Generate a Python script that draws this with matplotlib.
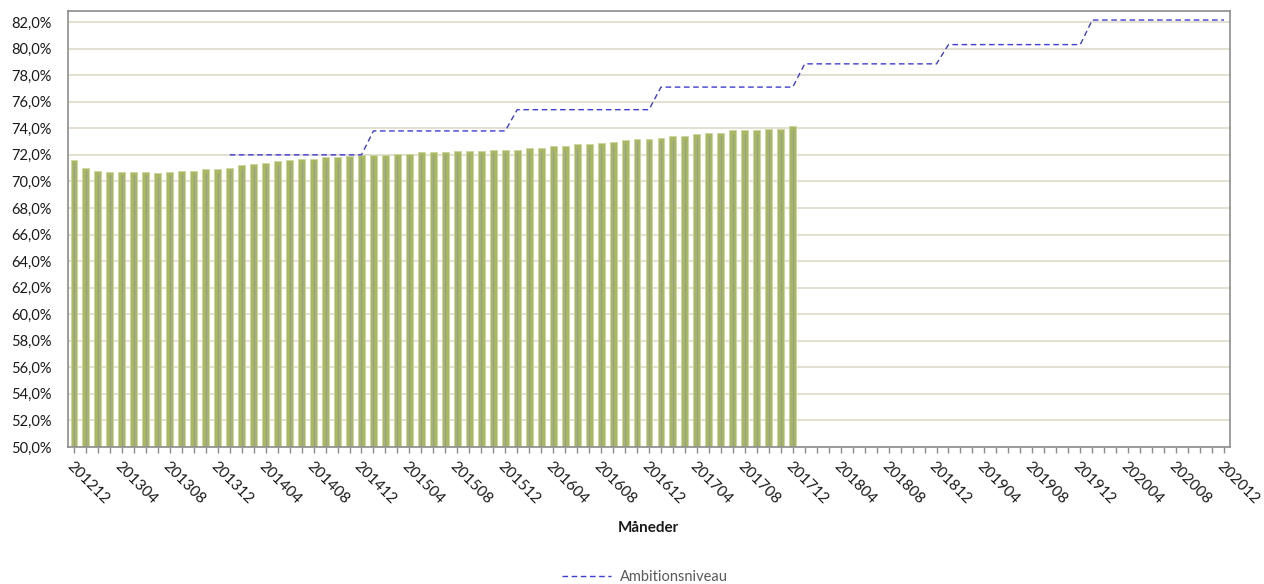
import matplotlib
matplotlib.use('Agg')
import matplotlib.pyplot as plt
import matplotlib.transforms as mtransforms
import numpy as np
from matplotlib.ticker import FuncFormatter
from matplotlib.lines import Line2D

plt.rcParams['font.family'] = ['Lato', 'DejaVu Sans']

# Categories: months 201212 .. 202012
months = [f"{y}{m:02d}" for y in range(2012, 2021) for m in range(1, 13)][11:]

# Actual values (%), 201212 .. 201712
bar_values = [
    71.6, 71.0, 70.8, 70.7, 70.7, 70.7, 70.7, 70.6, 70.7, 70.8,
    70.8, 70.9, 70.9, 71.0, 71.2, 71.3, 71.4, 71.5, 71.6, 71.7,
    71.7, 71.8, 71.8, 71.9, 72.0, 72.0, 72.0, 72.1, 72.1, 72.2,
    72.2, 72.2, 72.3, 72.3, 72.3, 72.4, 72.4, 72.4, 72.5,
    72.55, 72.65, 72.65, 72.8, 72.8, 72.9, 73.0, 73.1, 73.2, 73.2,
    73.3, 73.4, 73.4, 73.55, 73.65, 73.65, 73.85, 73.85, 73.85, 73.95,
    73.95, 74.15,
]

# Ambition level (%) per year, applies to all months of that year
ambition_years = [2014, 2015, 2016, 2017, 2018, 2019, 2020]
ambition_levels = [72.0, 73.8, 75.4, 77.1, 78.85, 80.3, 82.15]

y_ticks = list(range(50, 84, 2))

level_by_year = dict(zip(ambition_years, ambition_levels))
ambition = [level_by_year.get(int(m[:4]), np.nan) for m in months]

fig = plt.figure(figsize=(12.64, 5.84), dpi=100)
ax = fig.add_axes([68/1264, 1-447/584, (1230-68)/1264, (447-11)/584])

x_all = np.arange(len(months))
xb = np.arange(len(bar_values))

ax.set_axisbelow(True)
ax.yaxis.grid(True, color='#DDD7C3', linewidth=1.1)

ax.bar(xb, [v - 50 for v in bar_values], bottom=50, width=0.58,
       color='#A8B860', edgecolor='#CCD6A0', linewidth=0.6, zorder=2)
ax.vlines(xb, 50, [v - 0.25 for v in bar_values], color='#9597A6',
          linewidth=0.7, zorder=3)

ax.plot(x_all, ambition, color='#3C3CD8', linewidth=1.0,
        dashes=(4, 2.6), zorder=4)

ax.set_xlim(-0.5, len(months) - 0.5)
ax.set_ylim(50, 82.83)
ax.set_yticks(y_ticks)
ax.yaxis.set_major_formatter(FuncFormatter(lambda v, p: f"{v:.1f}%".replace('.', ',')))

ax.set_xticks(x_all)
ax.set_xticklabels([m if i % 4 == 0 else '' for i, m in enumerate(months)],
                   rotation=-45, ha='left', va='top', rotation_mode='anchor')

offset = mtransforms.ScaledTranslation(3/100, 0, fig.dpi_scale_trans)
for lbl in ax.get_xticklabels():
    lbl.set_transform(lbl.get_transform() + offset)

for s in ax.spines.values():
    s.set_color('#8C8C8C')
    s.set_linewidth(1.2)

ax.tick_params(axis='x', length=4, width=1, color='#8C8C8C', pad=5,
               labelsize=11, labelcolor='#1a1a1a')
ax.tick_params(axis='y', length=0, pad=12, labelsize=10.5, labelcolor='#1a1a1a')

fig.text(648/1264, 1-528/584, 'Måneder', ha='center', va='center',
         fontsize=11, fontweight='bold', color='#1a1a1a')

handle = Line2D([0], [0], color='#3C3CD8', linewidth=1.0, dashes=(4, 2.6))
fig.legend([handle], ['Ambitionsniveau'], loc='center',
           bbox_to_anchor=(645/1264, 1-577/584), frameon=False,
           fontsize=10.5, labelcolor='#595959', handlelength=3.4,
           handletextpad=0.6)

fig.savefig('out.png', dpi=100)
